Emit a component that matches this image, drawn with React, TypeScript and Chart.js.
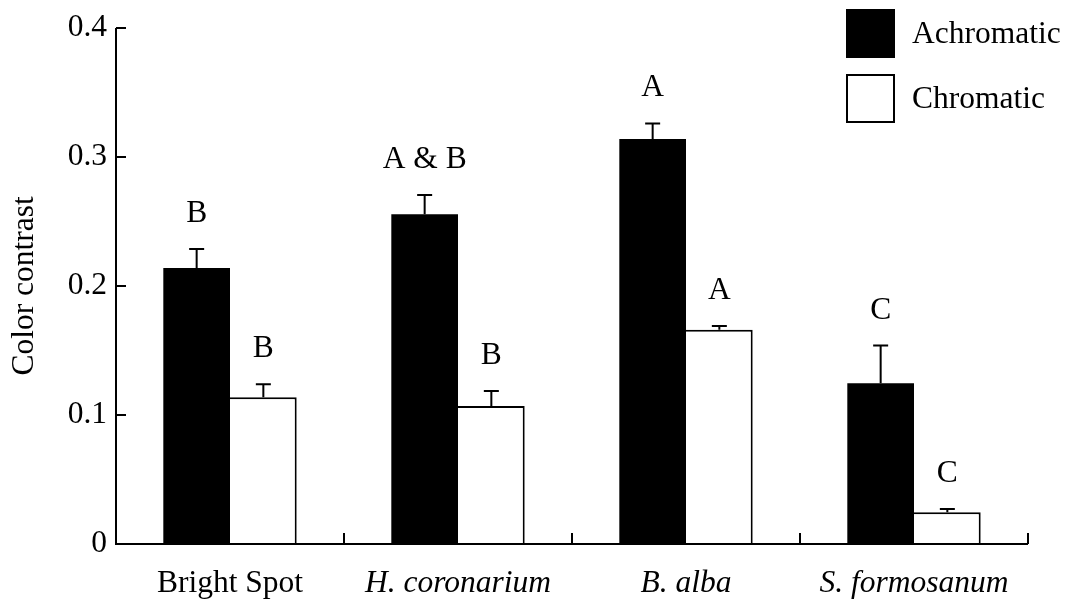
import React, { useEffect, useRef } from "react";
import { Chart, registerables } from "chart.js";

Chart.register(...registerables);

const categories = ["Bright Spot", "H. coronarium", "B. alba", "S. formosanum"];
const achromatic = [0.214, 0.2555, 0.3138, 0.1246];
const achromaticErr = [0.0147, 0.015, 0.0122, 0.0292];
const chromatic = [0.1138, 0.1069, 0.166, 0.0246];
const chromaticErr = [0.0100, 0.0116, 0.003, 0.0026];
const achromaticLetters = ["B", "A & B", "A", "C"];
const chromaticLetters = ["B", "B", "A", "C"];
const yTicks = [0, 0.1, 0.2, 0.3, 0.4];

const FONT = "'Liberation Serif', 'DejaVu Serif', serif";
const FS = 31.5;

const errLetters = {
  id: "errLetters",
  afterDatasetsDraw(chart: any) {
    const ctx = chart.ctx;
    const y = chart.scales.y;
    const errs = [achromaticErr, chromaticErr];
    const letters = [achromaticLetters, chromaticLetters];
    ctx.save();
    chart.data.datasets.forEach((ds: any, di: number) => {
      const meta = chart.getDatasetMeta(di);
      meta.data.forEach((bar: any, i: number) => {
        const v = ds.data[i];
        const top = y.getPixelForValue(v + errs[di][i]);
        const base = y.getPixelForValue(v);
        ctx.strokeStyle = "#000";
        ctx.lineWidth = 2;
        ctx.beginPath();
        ctx.moveTo(bar.x, base);
        ctx.lineTo(bar.x, top);
        ctx.moveTo(bar.x - 7.5, top);
        ctx.lineTo(bar.x + 7.5, top);
        ctx.stroke();
        ctx.fillStyle = "#000";
        ctx.font = `${FS}px ${FONT}`;
        ctx.textAlign = "center";
        ctx.textBaseline = "alphabetic";
        ctx.fillText(letters[di][i], bar.x, top - 27);
      });
    });
    ctx.restore();
  },
};

const axesPlugin = {
  id: "axesPlugin",
  afterDraw(chart: any) {
    const ctx = chart.ctx;
    const { left, right, bottom, top } = chart.chartArea;
    const x = chart.scales.x;
    const y = chart.scales.y;
    ctx.save();
    ctx.strokeStyle = "#000";
    ctx.lineWidth = 2;
    ctx.beginPath();
    ctx.moveTo(left, top);
    ctx.lineTo(left, bottom);
    ctx.lineTo(right, bottom);
    yTicks.forEach((t) => {
      const py = y.getPixelForValue(t);
      ctx.moveTo(left, py);
      ctx.lineTo(left + 10, py);
    });
    const n = categories.length;
    for (let i = 1; i <= n; i++) {
      const px = i < n ? (x.getPixelForValue(i - 1) + x.getPixelForValue(i)) / 2 : right;
      ctx.moveTo(px, bottom);
      ctx.lineTo(px, bottom - 11);
    }
    ctx.stroke();

    // legend
    const lx = 846;
    const boxW = 49;
    const boxH = 49;
    const rows = [9, 74];
    chart.data.datasets.forEach((ds: any, di: number) => {
      const ry = rows[di];
      ctx.fillStyle = ds.backgroundColor;
      ctx.fillRect(lx, ry, boxW, boxH);
      ctx.lineWidth = 2;
      ctx.strokeStyle = "#000";
      ctx.strokeRect(lx + 1, ry + 1, boxW - 2, boxH - 2);
      ctx.fillStyle = "#000";
      ctx.font = `${FS}px ${FONT}`;
      ctx.textAlign = "left";
      ctx.textBaseline = "middle";
      ctx.fillText(ds.label, 912, ry + boxH / 2 + 1);
    });
    ctx.restore();
  },
};

export default function App() {
  const ref = useRef<HTMLCanvasElement | null>(null);
  useEffect(() => {
    if (!ref.current) return;
    const chart = new Chart(ref.current, {
      type: "bar",
      data: {
        labels: categories,
        datasets: [
          {
            label: "Achromatic",
            data: achromatic,
            backgroundColor: "#000000",
            borderColor: "#000000",
            borderWidth: 0,
            barPercentage: 1,
            categoryPercentage: 0.585,
          },
          {
            label: "Chromatic",
            data: chromatic,
            backgroundColor: "#ffffff",
            borderColor: "#000000",
            borderWidth: { top: 2, right: 2, bottom: 0, left: 0 },
            barPercentage: 1,
            categoryPercentage: 0.585,
          },
        ],
      },
      options: {
        animation: false,
        responsive: true,
        maintainAspectRatio: false,
        layout: { padding: { left: 0, top: 24, right: 42, bottom: 0 } },
        plugins: {
          legend: { display: false },
          tooltip: { enabled: false },
        },
        scales: {
          x: {
            grid: { display: false, drawTicks: false },
            border: { display: false },
            ticks: {
              color: "#000",
              padding: 21,
              font: (c: any) => ({
                family: FONT,
                size: FS,
                style: c.index > 0 ? "italic" : "normal",
              }),
            },
            afterFit: (s: any) => {
              s.height = 61;
            },
          },
          y: {
            min: 0,
            max: 0.4,
            afterBuildTicks: (s: any) => {
              s.ticks = yTicks.map((v) => ({ value: v }));
            },
            grid: { display: false, drawTicks: false },
            border: { display: false },
            ticks: {
              color: "#000",
              padding: 9,
              font: { family: FONT, size: FS },
              callback: (v: any) => (v === 0 ? "0" : Number(v).toFixed(1)),
            },
            title: {
              display: true,
              text: "Color contrast",
              color: "#000",
              font: { family: FONT, size: FS },
              padding: { top: 6, bottom: 0 },
            },
            afterFit: (s: any) => {
              s.width = 116;
            },
          },
        },
      },
      plugins: [errLetters, axesPlugin],
    });
    return () => chart.destroy();
  }, []);
  return (
    <div style={{ position: "fixed", left: 0, top: 0, width: 1070, height: 605, background: "#fff" }}>
      <canvas ref={ref} />
    </div>
  );
}
